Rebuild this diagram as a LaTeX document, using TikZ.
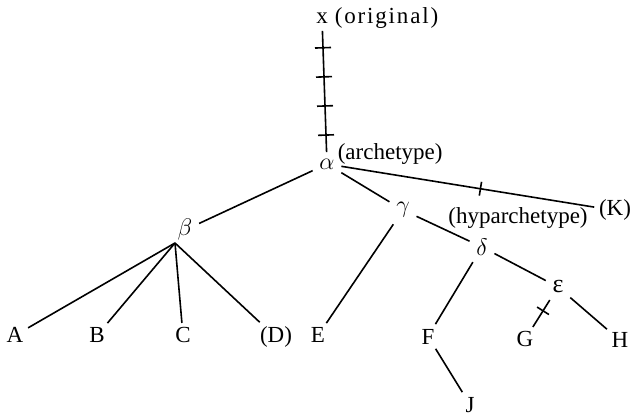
\documentclass[tikz,border=0pt]{standalone}
\usepackage{fontspec}
\setmainfont{Liberation Serif}
\usetikzlibrary{positioning,decorations.markings}

\tikzset{tick/.style={decoration={markings,mark=at position #1 with {\draw (0,-7) -- (0,7);}},postaction={decorate}}}
\tikzset{ticks/.style={decoration={markings,mark=between positions 0.14 and 0.87 step 0.24 with {\draw (0,-8) -- (0,8);}},postaction={decorate}}}

\begin{document}
\begin{tikzpicture}[x=0.5pt,y=-0.5pt,line width=0.8pt,font=\fontsize{11.5}{13}\selectfont]
	\tikzstyle{ms}=[inner sep=3pt, font=\fontsize{13}{15}\selectfont]
	\tikzstyle{leaf}=[inner sep=2pt, anchor=base]
	\tikzstyle{annot}=[inner sep=0pt, anchor=base west]

    \useasboundingbox (0,0) rectangle (631,416);

    % original and archetype
    \node[inner sep=3pt, anchor=base] (orig) at (322,24) {x};
    \node[annot] (origtxt) at (334,24) {\addfontfeature{LetterSpace=8}(original)};
    \node[ms] (alpha) at (327,164) {$\alpha$};
    \node[annot] (archtxt) at (337,160) {(archetype)};

    % hyparchetypes
    \node[ms] (beta) at (185,230) {$\beta$};
    \node[ms] (gamma) at (403,210) {$\gamma$};
    \node[ms] (delta) at (482,247) {$\delta$};
    \node[ms] (eps) at (558,287) {ε};
    \node[leaf] (K) at (615,216) {(K)};
    \node[annot, anchor=base] (hyptxt) at (518,224) {(hyparchetype)};
    \coordinate (fan) at (175,243);

    % witnesses
    \node[leaf] (A) at (15,343) {A};
    \node[leaf] (B) at (97,343) {B};
    \node[leaf] (C) at (183,343) {C};
    \node[leaf] (D) at (276,343) {(D)};
    \node[leaf] (E) at (318,343) {E};
    \node[leaf] (F) at (428,344) {F};
    \node[leaf] (G) at (525,347) {G};
    \node[leaf] (H) at (620,348) {H};
    \node[leaf] (J) at (470,412) {J};

    \draw[ticks] (orig) -- (alpha);
    \draw (alpha) -- (beta);
    \draw (alpha) -- (gamma);
    \draw[tick=0.55] (alpha) -- (K);

    \draw (fan) -- (A);
    \draw (fan) -- (B);
    \draw (fan) -- (C);
    \draw (fan) -- (D);

    \draw (gamma) -- (E);
    \draw (gamma) -- (delta);
    \draw (delta) -- (F);
    \draw (F) -- (J);
    \draw (delta) -- (eps);
    \draw[tick=0.4] (eps) -- (G);
    \draw (eps) -- (H);
\end{tikzpicture}
\end{document}
